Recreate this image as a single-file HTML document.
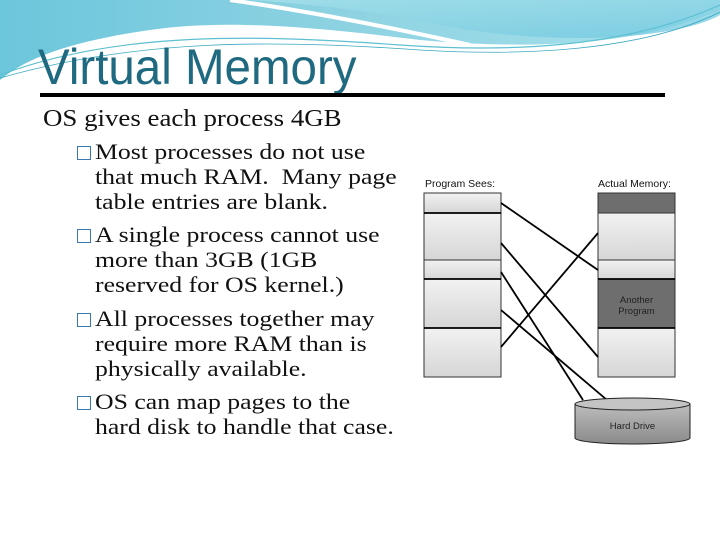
<!DOCTYPE html>
<html><head><style>
body{margin:0;width:720px;height:540px;overflow:hidden;background:#fff;position:relative;font-family:"Liberation Serif",serif}
.t{position:absolute;white-space:nowrap;color:#111;transform-origin:0 0}
.b{position:absolute;left:77px;width:14px;height:14px;border:1.8px solid #3a78b0;box-sizing:border-box}
.s{font-size:22px;transform:scaleX(1.17)}
</style></head><body>
<svg width="720" height="100" style="position:absolute;left:0;top:0">
<defs>
<linearGradient id="g1" x1="0" y1="0" x2="1" y2="0"><stop offset="0" stop-color="#6cc6dc"/><stop offset="0.5" stop-color="#8fd3e2"/><stop offset="1" stop-color="#a8e2ec"/></linearGradient>
<linearGradient id="g2" x1="0" y1="0" x2="1" y2="1"><stop offset="0" stop-color="#a6e0ea"/><stop offset="1" stop-color="#70c8e0"/></linearGradient>
</defs>
<path d="M0 0 H720 V10 C650 40 560 52 420 40 C300 25 220 20 150 30 C80 40 30 55 0 80 Z" fill="url(#g1)"/>
<path d="M250 0 H720 V15 C680 38 560 48 440 25 C380 12 320 5 250 0Z" fill="url(#g2)" opacity="0.8"/>
<path d="M230 0 C300 10 380 25 470 45" stroke="#fff" stroke-width="4" fill="none"/>
<path d="M0 75 C120 30 260 35 400 45 C500 52 620 50 720 5" stroke="#5cc0d0" stroke-width="1.2" fill="none"/>
<path d="M0 78 C140 38 280 40 420 50 C520 56 640 52 720 12" stroke="#3aa8c0" stroke-width="0.8" fill="none"/>
</svg>
<div class="t" style="left:38px;top:38px;font-family:'Liberation Sans',sans-serif;font-size:50px;color:#1f6a80;transform:scaleX(0.95)">Virtual Memory</div>
<div style="position:absolute;left:40px;top:93px;width:625px;height:4px;background:#000"></div>
<div class="t" style="left:43px;top:106px;font-size:24px;transform:scaleX(1.12)">OS gives each process 4GB</div>
<div class="b" style="top:146px"></div>
<div class="t s" style="left:95px;top:139px">Most processes do not use</div>
<div class="t s" style="left:95px;top:164px">that much RAM.&nbsp; Many page</div>
<div class="t s" style="left:95px;top:189px">table entries are blank.</div>
<div class="b" style="top:229px"></div>
<div class="t s" style="left:95px;top:222px">A single process cannot use</div>
<div class="t s" style="left:95px;top:247px">more than 3GB (1GB</div>
<div class="t s" style="left:95px;top:272px">reserved for OS kernel.)</div>
<div class="b" style="top:313px"></div>
<div class="t s" style="left:95px;top:306px">All processes together may</div>
<div class="t s" style="left:95px;top:331px">require more RAM than is</div>
<div class="t s" style="left:95px;top:356px">physically available.</div>
<div class="b" style="top:396px"></div>
<div class="t s" style="left:95px;top:389px">OS can map pages to the</div>
<div class="t s" style="left:95px;top:414px">hard disk to handle that case.</div>
<svg width="720" height="540" style="position:absolute;left:0;top:0">
<defs>
<linearGradient id="lg" x1="0" y1="0" x2="0" y2="1"><stop offset="0" stop-color="#f2f2f2"/><stop offset="1" stop-color="#d6d6d6"/></linearGradient>
<linearGradient id="cy" x1="0" y1="0" x2="0" y2="1"><stop offset="0" stop-color="#bdbdbd"/><stop offset="1" stop-color="#8a8a8a"/></linearGradient>
</defs>
<g font-family="Liberation Sans,sans-serif" font-size="10.5" fill="#111">
<text x="425" y="187">Program Sees:</text>
<text x="598" y="187">Actual Memory:</text>
</g>
<g stroke="#333" stroke-width="1">
<rect x="424" y="193" width="77" height="20" fill="url(#lg)"/>
<rect x="424" y="213" width="77" height="47" fill="url(#lg)"/>
<rect x="424" y="260" width="77" height="19" fill="url(#lg)"/>
<rect x="424" y="279" width="77" height="49" fill="url(#lg)"/>
<rect x="424" y="328" width="77" height="49" fill="url(#lg)"/>
<rect x="598" y="193" width="77" height="20" fill="#6e6e6e"/>
<rect x="598" y="213" width="77" height="47" fill="url(#lg)"/>
<rect x="598" y="260" width="77" height="19" fill="url(#lg)"/>
<rect x="598" y="279" width="77" height="49" fill="#6e6e6e"/>
<rect x="598" y="328" width="77" height="49" fill="url(#lg)"/>
</g>
<g stroke="#000" stroke-width="1.8">
<line x1="424" y1="213" x2="501" y2="213"/><line x1="424" y1="279" x2="501" y2="279"/><line x1="424" y1="328" x2="501" y2="328"/>
<line x1="598" y1="279" x2="675" y2="279"/><line x1="598" y1="328" x2="675" y2="328"/>
<line x1="501" y1="203" x2="598" y2="270"/>
<line x1="501" y1="243" x2="598" y2="357"/>
<line x1="501" y1="272" x2="583" y2="400"/>
<line x1="501" y1="310" x2="607" y2="400"/>
<line x1="501" y1="347" x2="598" y2="233"/>
</g>
<text x="636.5" y="303" font-family="Liberation Sans,sans-serif" font-size="9.5" fill="#222" text-anchor="middle">Another</text>
<text x="636.5" y="314" font-family="Liberation Sans,sans-serif" font-size="9.5" fill="#222" text-anchor="middle">Program</text>
<path d="M575 404 V438 A57.5 6 0 0 0 690 438 V404" fill="url(#cy)" stroke="#222"/>
<ellipse cx="632.5" cy="404" rx="57.5" ry="6" fill="#c4c4c4" stroke="#222"/>
<text x="632.5" y="429" font-family="Liberation Sans,sans-serif" font-size="9.5" fill="#222" text-anchor="middle">Hard Drive</text>
</svg>
</body></html>
